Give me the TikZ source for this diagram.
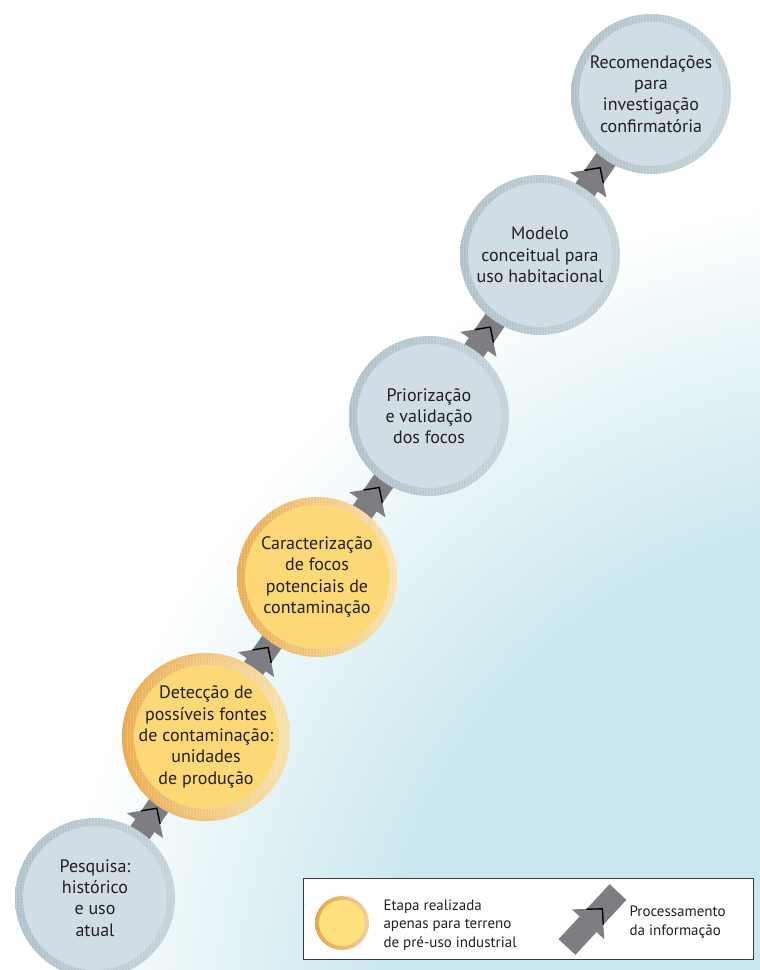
\documentclass[tikz,border=0pt]{standalone}
\usepackage{fontspec}
\setmainfont{PT Sans}
\usetikzlibrary{calc,patterns}

\definecolor{ink}{HTML}{231F20}
\definecolor{linkgray}{HTML}{7E7E82}
\definecolor{bluefill}{HTML}{D0DDE4}
\definecolor{bluerimA}{HTML}{AFC0C9}
\definecolor{bluerimB}{HTML}{C4D2D9}
\definecolor{yellowfill}{HTML}{FDD877}
\definecolor{yellowrimA}{HTML}{E9AC50}
\definecolor{yellowrimB}{HTML}{F8E2AE}
\definecolor{keyfill}{HTML}{FEE07E}
\definecolor{keyrim}{HTML}{E5A649}
\definecolor{glowcyan}{HTML}{C8E7EE}
\definecolor{boxline}{HTML}{3A3A3A}

\pgfdeclarelayer{back}
\pgfdeclarelayer{links}
\pgfsetlayers{back,links,main}

% soft cyan glow in the lower right (25bp is the rim of the shaded disc)
\pgfdeclareradialshading{glow}{\pgfpointorigin}{%
  color(0bp)=(glowcyan); color(15bp)=(glowcyan); color(25bp)=(white); color(50bp)=(white)}

% fine vertical hatching used on the circle rims
\pgfdeclarepatternformonly{rimstripes}{\pgfqpoint{0pt}{0pt}}{\pgfqpoint{3pt}{3pt}}{\pgfqpoint{3pt}{3pt}}{%
  \pgfpathrectangle{\pgfqpoint{1pt}{0pt}}{\pgfqpoint{1.1pt}{3pt}}\pgfusepath{fill}}

\tikzset{
  stage/.style n args={3}{circle, minimum size=160pt, inner sep=0pt, align=center,
    text=ink, font=\fontsize{18pt}{21.3pt}\selectfont,
    path picture={
      \shade[left color=#1, right color=#2]
        (path picture bounding box.south west) rectangle (path picture bounding box.north east);
      \fill[pattern=rimstripes, pattern color=white, fill opacity=0.35]
        (path picture bounding box.center) circle (80pt);
      \fill[#3] (path picture bounding box.center) circle (72pt);
    }},
  bluestage/.style={stage={bluerimA}{bluerimB}{bluefill}},
  yellowstage/.style={stage={yellowrimA}{yellowrimB}{yellowfill}},
  keydot/.style={circle, minimum size=54pt, inner sep=0pt,
    path picture={
      \shade[left color=keyrim, right color=keyrim!55!white]
        (path picture bounding box.south west) rectangle (path picture bounding box.north east);
      \fill[keyfill] (path picture bounding box.center) circle (23pt);
    }},
  keytext/.style={anchor=west, align=left, text=ink, font=\fontsize{15pt}{18.5pt}\selectfont},
  linkedge/.style={draw=black, line width=1.4pt, line join=miter},
}

% gray band between two points, with an arrow head and its dark tip edge
% #1 from, #2 to, #3 band start, #4 band end, #5 position of the tip
\newcommand\flowlink[5]{%
  \fill[linkgray]
    ($(#1.center)!#3!(#2.center)!11.5pt!90:(#2.center)$) --
    ($(#1.center)!#4!(#2.center)!11.5pt!90:(#2.center)$) --
    ($(#1.center)!#4!(#2.center)!11.5pt!-90:(#2.center)$) --
    ($(#1.center)!#3!(#2.center)!11.5pt!-90:(#2.center)$) -- cycle;
  \fill[linkgray]
    ($(#1.center)!#5!(#2.center)$) --
    ($(#1.center)!#5-21pt!(#2.center)!22pt!90:(#2.center)$) --
    ($(#1.center)!#5-21pt!(#2.center)!22pt!-90:(#2.center)$) -- cycle;
  \draw[linkedge]
    ($(#1.center)!#5-11pt!(#2.center)!11.5pt!90:(#2.center)$) --
    ($(#1.center)!#5!(#2.center)$) --
    ($(#1.center)!#5-11pt!(#2.center)!11.5pt!-90:(#2.center)$);
}

\begin{document}
\begin{tikzpicture}[x=1pt, y=-1pt]
\useasboundingbox (0,0) rectangle (760,970);

\begin{pgfonlayer}{back}
  \fill[white] (0,0) rectangle (760,970);
  \begin{scope}
    \clip (0,0) rectangle (760,970);
    \shade[shading=glow] (900,1040) circle (850);
  \end{scope}
\end{pgfonlayer}

% the six stages
\node[bluestage]   (s1) at (95,898)  {Pesquisa:\\histórico\\e uso\\atual};
\node[yellowstage] (s2) at (206,737) {Detecção de\\possíveis fontes\\de contaminação:\\unidades\\de produção};
\node[yellowstage] (s3) at (317,577) {Caracterização\\de focos\\potenciais de\\contaminação};
\node[bluestage]   (s4) at (429,416) {Priorização\\e validação\\dos focos};
\node[bluestage]   (s5) at (540,255) {Modelo\\conceitual para\\uso habitacional};
\node[bluestage]   (s6) at (651,94)  {Recomendações\\para\\investigação\\confirmatória};

\begin{pgfonlayer}{links}
  \flowlink{s1}{s2}{40pt}{160pt}{109pt}
  \flowlink{s2}{s3}{40pt}{160pt}{109pt}
  \flowlink{s3}{s4}{40pt}{160pt}{109pt}
  \flowlink{s4}{s5}{40pt}{160pt}{108pt}
  \flowlink{s5}{s6}{40pt}{160pt}{106pt}
\end{pgfonlayer}

% legend
\node[draw=boxline, line width=0.9pt, fill=white, minimum width=450pt, minimum height=81pt,
      inner sep=0pt] (legend) at (528,919) {};
\node[keydot] (keycircle) at (342,923) {};
\node[keytext] (keytext1) at (380,925) {Etapa realizada\\apenas para terreno\\de pré-uso industrial};
\coordinate (keyfrom) at (567,947);
\coordinate (keyto) at (618,892);
\flowlink{keyfrom}{keyto}{0pt}{75pt}{52pt}
\node[keytext] (keytext2) at (626,922) {Processamento\\da informação};
\end{tikzpicture}
\end{document}
